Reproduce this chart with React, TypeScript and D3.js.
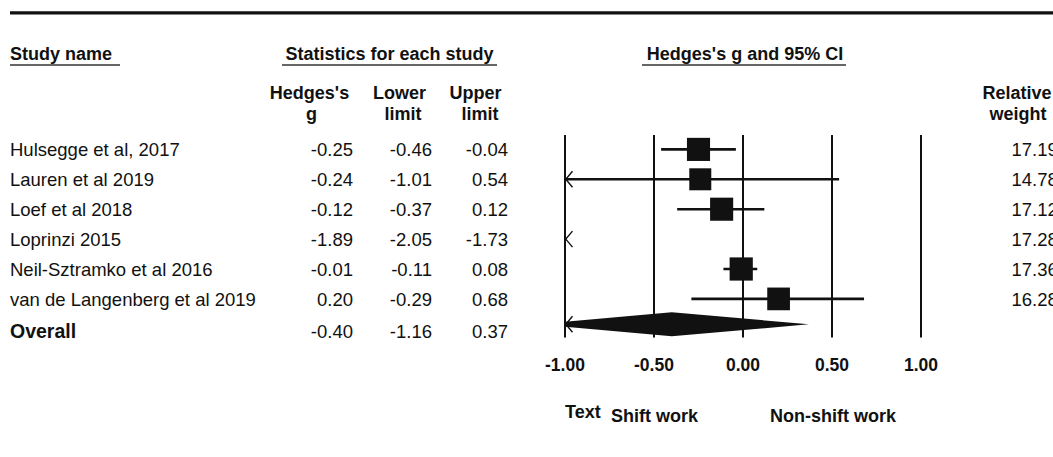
import React from "react";
import * as d3 from "d3";

const studies = [
  "Hulsegge et al, 2017",
  "Lauren et al 2019",
  "Loef et al 2018",
  "Loprinzi 2015",
  "Neil-Sztramko et al 2016",
  "van de Langenberg et al 2019",
];
const hedgesG = [-0.25, -0.24, -0.12, -1.89, -0.01, 0.2];
const lowerLimit = [-0.46, -1.01, -0.37, -2.05, -0.11, -0.29];
const upperLimit = [-0.04, 0.54, 0.12, -1.73, 0.08, 0.68];
const relWeight = [17.19, 14.78, 17.12, 17.28, 17.36, 16.28];
const overallLabel = "Overall";
const overallValues = [-0.4, -1.16, 0.37]; // g, lower, upper
const ticks = [-1, -0.5, 0, 0.5, 1];
const legendLeft = "Shift work";
const legendRight = "Non-shift work";

const FONT = "'Liberation Sans', Arial, Helvetica, sans-serif";
const INK = "#111";

export default function App() {
  const W = 1053;
  const H = 457;
  const x = d3.scaleLinear().domain([-1, 1]).range([565, 921]);
  const yBase = d3
    .scaleLinear()
    .domain([0, studies.length])
    .range([156.4, 156.4 + 29.9 * studies.length]);
  const markY = (i: number) => yBase(i) - 7;
  const size = d3.scaleLinear().domain([14.78, 17.36]).range([22, 23.2]);
  const [xmin, xmax] = x.domain() as [number, number];
  const fmt = (v: number) => v.toFixed(2);

  const chevronLeft = (cy: number, key: string) => (
    <path
      key={key}
      d={`M${x(xmin) + 7.5},${cy - 8} L${x(xmin) + 0.8},${cy} L${x(xmin) + 7.5},${cy + 8}`}
      fill="none"
      stroke={INK}
      strokeWidth={1.4}
    />
  );
  const chevronRight = (cy: number, key: string) => (
    <path
      key={key}
      d={`M${x(xmax) - 7.5},${cy - 8} L${x(xmax) - 0.8},${cy} L${x(xmax) - 7.5},${cy + 8}`}
      fill="none"
      stroke={INK}
      strokeWidth={1.4}
    />
  );

  // overall diamond (clipped at axis limits)
  const [og, olo, ohi] = overallValues;
  const dcy = yBase(studies.length) - 11.5;
  const dh = 12;
  const left = Math.max(olo, xmin);
  const right = Math.min(ohi, xmax);
  const hl = olo < xmin ? (dh * (left - olo)) / (og - olo) : 0;
  const hr = ohi > xmax ? (dh * (ohi - right)) / (ohi - og) : 0;
  const diamond = [
    [x(left), dcy - hl],
    [x(og), dcy - dh],
    [x(right), dcy - hr],
    [x(right), dcy + hr],
    [x(og), dcy + dh],
    [x(left), dcy + hl],
  ];

  const colRight = [353, 432, 508];

  return (
    <svg
      width={W}
      height={H}
      style={{ position: "absolute", left: 0, top: 0, background: "#fff" }}
      fontFamily={FONT}
    >
      <rect width={W} height={H} fill="#fff" />
      {/* top rule */}
      <line x1={10} x2={W} y1={12.8} y2={12.8} stroke={INK} strokeWidth={3.2} />

      {/* group headers */}
      <g fontWeight="bold" fontSize={18} fill={INK}>
        <text x={10} y={60}>Study name</text>
        <text x={389.5} y={60} textAnchor="middle">Statistics for each study</text>
        <text x={745} y={60} textAnchor="middle">Hedges's g and 95% CI</text>
      </g>
      <g stroke="#333" strokeWidth={1.4}>
        <line x1={10} x2={120} y1={65} y2={65} />
        <line x1={282} x2={497} y1={65} y2={65} />
        <line x1={642} x2={846} y1={65} y2={65} />
      </g>

      {/* column headers */}
      <g fontWeight="bold" fontSize={18} fill={INK} textAnchor="middle">
        <text x={309.5} y={98.5}>Hedges's</text>
        <text x={311.5} y={119.5}>g</text>
        <text x={399.5} y={98.5}>Lower</text>
        <text x={403} y={119.5}>limit</text>
        <text x={475.5} y={98.5}>Upper</text>
        <text x={480} y={119.5}>limit</text>
        <text x={1017} y={98.5}>Relative</text>
        <text x={1018} y={119.5}>weight</text>
      </g>

      {/* study rows text */}
      <g fontSize={18.5} fill={INK}>
        {studies.map((s, i) => (
          <g key={s}>
            <text x={10} y={yBase(i)}>{s}</text>
            {[hedgesG[i], lowerLimit[i], upperLimit[i]].map((v, j) => (
              <text key={j} x={colRight[j]} y={yBase(i)} textAnchor="end">
                {fmt(v)}
              </text>
            ))}
            <text x={1011.5} y={yBase(i)}>{fmt(relWeight[i])}</text>
          </g>
        ))}
        <text x={10} y={yBase(studies.length) + 2.5} fontWeight="bold" fontSize={19.5}>
          {overallLabel}
        </text>
        {overallValues.map((v, j) => (
          <text key={j} x={colRight[j]} y={yBase(studies.length) + 2.5} textAnchor="end">
            {fmt(v)}
          </text>
        ))}
      </g>

      {/* vertical reference lines */}
      <g stroke={INK} strokeWidth={2}>
        {ticks.map((t) => (
          <line key={t} x1={x(t)} x2={x(t)} y1={135} y2={337.5} />
        ))}
      </g>

      {/* CIs and squares */}
      {studies.map((s, i) => {
        const cy = markY(i);
        const lo = lowerLimit[i];
        const hi = upperLimit[i];
        const g = hedgesG[i];
        const els: React.ReactNode[] = [];
        if (hi >= xmin && lo <= xmax) {
          els.push(
            <line
              key="ci"
              x1={x(Math.max(lo, xmin))}
              x2={x(Math.min(hi, xmax))}
              y1={cy}
              y2={cy}
              stroke={INK}
              strokeWidth={2.6}
            />
          );
        }
        if (lo < xmin) els.push(chevronLeft(cy, "cl"));
        if (hi > xmax) els.push(chevronRight(cy, "cr"));
        if (g >= xmin && g <= xmax) {
          const sz = size(relWeight[i]);
          els.push(
            <rect
              key="sq"
              x={x(g) - sz / 2}
              y={cy - sz / 2}
              width={sz}
              height={sz}
              fill={INK}
            />
          );
        }
        return <g key={s}>{els}</g>;
      })}

      {/* overall diamond */}
      <polygon points={diamond.map((p) => p.join(",")).join(" ")} fill={INK} />
      {olo < xmin && chevronLeft(dcy, "dcl")}
      {ohi > xmax && chevronRight(dcy, "dcr")}

      {/* tick labels */}
      <g fontWeight="bold" fontSize={17.5} fill={INK} textAnchor="middle">
        {ticks.map((t) => (
          <text key={t} x={x(t)} y={370.5}>
            {fmt(t)}
          </text>
        ))}
      </g>

      {/* legend */}
      <g fontWeight="bold" fontSize={18} fill={INK}>
        <text x={565} y={417.5}>Text</text>
        <text x={611} y={422}>{legendLeft}</text>
        <text x={770} y={422}>{legendRight}</text>
      </g>
    </svg>
  );
}
